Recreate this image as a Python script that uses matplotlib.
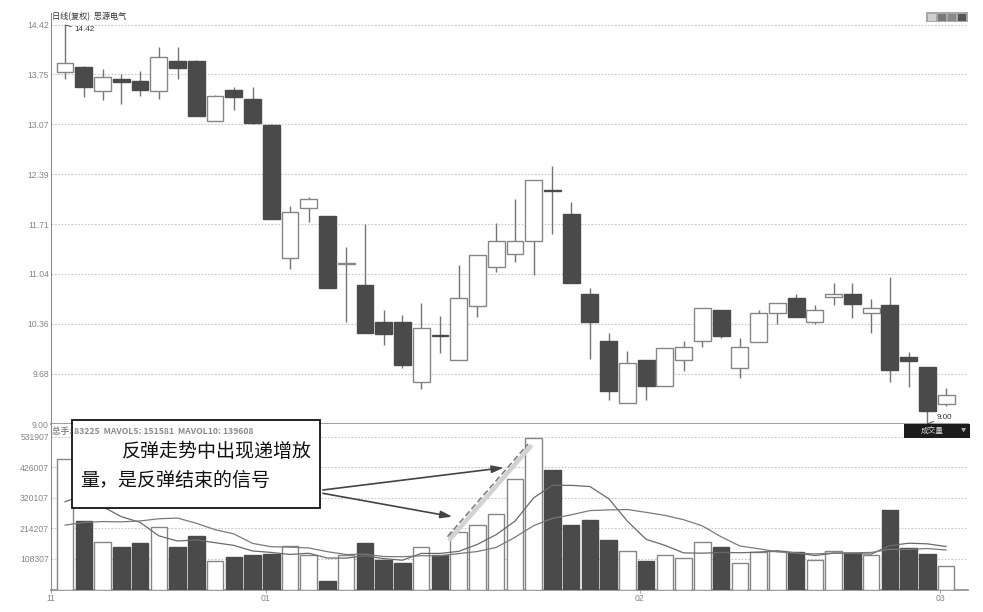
import numpy as np
import pandas as pd
import matplotlib
matplotlib.use("Agg")
import matplotlib.pyplot as plt
from matplotlib.patches import Rectangle
from matplotlib.transforms import ScaledTranslation

# ---------------- data ----------------
opens  = [13.78, 13.85, 13.53, 13.68, 13.66, 13.53, 13.93, 13.93, 13.11, 13.54,
          13.42, 13.06, 11.26, 11.94, 11.82, 11.17, 10.89, 10.38, 10.38, 9.57,
          10.21, 9.87, 10.60, 11.13, 11.31, 11.48, 12.18, 11.85, 10.76, 10.13,
          9.29, 9.87, 9.52, 9.87, 10.13, 10.55, 9.76, 10.12, 10.51, 10.71,
          10.39, 10.73, 10.76, 10.51, 10.61, 9.91, 9.78, 9.27]
highs  = [14.42, 13.86, 13.82, 13.76, 13.80, 14.12, 14.12, 13.95, 13.47, 13.58,
          13.58, 13.07, 11.96, 12.08, 11.82, 11.41, 11.72, 10.55, 10.48, 10.64,
          10.47, 11.16, 11.29, 11.73, 12.05, 12.32, 12.50, 12.01, 10.85, 10.24,
          9.99, 9.87, 10.03, 10.13, 10.57, 10.55, 10.17, 10.55, 10.65, 10.76,
          10.62, 10.92, 10.91, 10.70, 11.00, 9.98, 9.78, 9.49]
lows   = [13.68, 13.44, 13.40, 13.35, 13.46, 13.42, 13.68, 13.18, 13.11, 13.27,
          13.07, 11.78, 11.11, 11.75, 10.85, 10.38, 10.24, 10.07, 9.76, 9.47,
          9.97, 9.87, 10.46, 11.06, 11.20, 11.03, 11.58, 10.92, 9.88, 9.33,
          9.29, 9.33, 9.52, 9.72, 10.05, 10.17, 9.62, 10.12, 10.36, 10.45,
          10.36, 10.61, 10.44, 10.23, 9.57, 9.50, 9.00, 9.25]
closes = [13.90, 13.58, 13.71, 13.64, 13.54, 13.99, 13.84, 13.18, 13.46, 13.44,
          13.09, 11.78, 11.88, 12.05, 10.85, 11.19, 10.24, 10.22, 9.80, 10.30,
          10.19, 10.71, 11.29, 11.48, 11.48, 12.32, 12.16, 10.92, 10.39, 9.45,
          9.83, 9.52, 10.03, 10.04, 10.57, 10.20, 10.04, 10.51, 10.65, 10.45,
          10.55, 10.77, 10.63, 10.58, 9.73, 9.86, 9.17, 9.39]
volumes = [454500, 241300, 168400, 151000, 162800, 220400, 151000, 188100, 102400, 116300,
           123200, 125500, 153400, 123000, 32900, 122200, 164900, 104800, 95400, 151000,
           122200, 201000, 226400, 263500, 385000, 527400, 417300, 226400, 243700, 174300,
           136100, 102400, 122200, 112800, 168400, 151000, 95400, 133600, 136175, 132000,
           104000, 136000, 130000, 123500, 279180, 147000, 125000, 83225]
# sessions just before the window (estimated from where the MA lines start)
volume_before = [150000, 138000, 160000, 132000, 145000, 126000, 368000, 326000, 261000]

price_ticks = [9.00, 9.68, 10.36, 11.04, 11.71, 12.39, 13.07, 13.75, 14.42]
volume_ticks = [108307, 214207, 320107, 426007, 531907]
month_labels = ["11", "01", "02", "03"]
stock_title = "日线(复权)  思源电气"
note_lines = ["反弹走势中出现递增放", "量，是反弹结束的信号"]

# ---------------- figure ----------------
W, H = 983, 612
fig = plt.figure(figsize=(W / 100, H / 100), dpi=100)
fig.patch.set_facecolor("white")

def fx(px):
    return px / W

def fy(py):
    return 1 - py / H

ax_p = fig.add_axes([fx(51), fy(424), fx(968) - fx(51), fy(13) - fy(424)])
ax_v = fig.add_axes([fx(51), fy(589.5), fx(968) - fx(51), fy(424) - fy(589.5)], sharex=ax_p)

cjk = ["Noto Sans CJK SC", "DejaVu Sans"]
lat = ["Liberation Sans", "DejaVu Sans"]
dark = "#4a4a4a"
edge_up = "#858585"
wick = "#737373"
grid_kw = dict(linestyle=(0, (1.5, 1.5)), color="#c6c6c6", linewidth=0.8)
axis_col = "#8c8c8c"
tick_col = "#858585"

o, h, l, c = map(np.array, (opens, highs, lows, closes))
n = len(o)
idx = np.arange(n)
up = c >= o

# candles
ax_p.vlines(idx, l, h, color=wick, linewidth=1, zorder=2)
body_bottom = np.minimum(o, c)
body_h = np.maximum(np.abs(c - o), 0.015)
ax_p.bar(idx, body_h, bottom=body_bottom, width=0.9,
         color=np.where(up, "white", dark), edgecolor=np.where(up, edge_up, dark),
         linewidth=1, zorder=3)

ax_p.set_xlim(-0.53, n + 0.17)
ax_p.set_ylim(9.00, 14.583)
ax_p.set_yticks(price_ticks)
ax_p.set_yticklabels([f"{t:.2f}" for t in price_ticks])
ax_p.yaxis.grid(True, **grid_kw)
ax_p.set_axisbelow(True)
ax_p.tick_params(axis="y", length=0, pad=1.5, labelsize=6.2, labelcolor=tick_col)
ax_p.tick_params(axis="x", length=0, labelbottom=False)
for lab in ax_p.get_yticklabels():
    lab.set_family(lat)
for s in ("top", "right"):
    ax_p.spines[s].set_visible(False)
ax_p.spines["left"].set_color(axis_col)
ax_p.spines["bottom"].set_color(axis_col)
ax_p.spines["bottom"].set_linewidth(1.2)

# extreme price labels
ih = int(np.argmax(h))
ax_p.annotate(f"{h[ih]:.2f}", xy=(ih, h[ih]), xytext=(6.5, -3.5), textcoords="offset points",
              fontsize=5.8, color="#333333", va="center", ha="left", family=lat,
              arrowprops=dict(arrowstyle="-", lw=0.6, color="#333333", shrinkA=0, shrinkB=0))
il = int(np.argmin(l))
ax_p.annotate(f"{l[il]:.2f}", xy=(il, l[il]), xytext=(6.5, 5), textcoords="offset points",
              fontsize=5.8, color="#333333", va="center", ha="left", family=lat,
              annotation_clip=False,
              arrowprops=dict(arrowstyle="-", lw=0.6, color="#333333", shrinkA=0, shrinkB=0))

# volume bars + moving averages
ax_v.bar(idx, volumes, width=0.88, color=np.where(up, "white", dark),
         edgecolor=np.where(up, edge_up, dark), linewidth=1, zorder=3)
vol_all = pd.Series(volume_before + volumes, dtype=float)
ma5 = vol_all.rolling(5).mean().to_numpy()[len(volume_before):]
ma10 = vol_all.rolling(10).mean().to_numpy()[len(volume_before):]
ax_v.plot(idx, ma5, color="#6a6a6a", linewidth=0.9, zorder=4)
ax_v.plot(idx, ma10, color="#7a7a7a", linewidth=0.9, zorder=4)

ax_v.set_ylim(2407, 577000)
ax_v.set_yticks(volume_ticks)
ax_v.set_yticklabels([str(t) for t in volume_ticks])
ax_v.yaxis.grid(True, **grid_kw)
ax_v.set_axisbelow(True)
ax_v.tick_params(axis="y", length=0, pad=1.5, labelsize=6.2, labelcolor=tick_col)
for lab in ax_v.get_yticklabels():
    lab.set_family(lat)
month_pos = [-0.75, 10.7, 30.65, 46.7]
ax_v.set_xticks(month_pos)
ax_v.set_xticklabels(month_labels)
ax_v.tick_params(axis="x", length=2, width=0.6, color=axis_col, pad=1.5,
                 labelsize=6.2, labelcolor=tick_col)
for lab in ax_v.get_xticklabels():
    lab.set_family(lat)
for s in ("top", "right"):
    ax_v.spines[s].set_visible(False)
ax_v.spines["left"].set_color(axis_col)
ax_v.spines["bottom"].set_color(axis_col)
ax_v.spines["bottom"].set_linewidth(1.2)

# dashed trend line with soft shadow along the rising volume
shadow_tr = ax_v.transData + ScaledTranslation(1.8 / 72, -1.8 / 72, fig.dpi_scale_trans)
ax_v.plot([20.4, 24.7], [185700, 507600], color="#d2d2d2", linewidth=3.2,
          solid_capstyle="round", transform=shadow_tr, zorder=5)
ax_v.plot([20.4, 24.7], [185700, 507600], color="#7a7a7a", linewidth=1.1,
          linestyle=(0, (4, 2)), zorder=6)

# arrows from the note box
arrow_kw = dict(arrowstyle="-|>,head_length=0.7,head_width=0.22", color="#444444",
                lw=1.2, shrinkA=0, shrinkB=0)
ax_v.annotate("", xy=(23.4, 425300), xytext=(13.75, 347900), arrowprops=arrow_kw,
              annotation_clip=False, zorder=7)
ax_v.annotate("", xy=(20.66, 255200), xytext=(13.75, 336400), arrowprops=arrow_kw,
              annotation_clip=False, zorder=7)

# ---------------- figure-level decorations ----------------
fig.text(fx(52), fy(17), stock_title, fontsize=5.9, color="#333333", family=cjk,
         ha="left", va="center", zorder=6)

# note box
fig.add_artist(Rectangle((fx(72), fy(508)), fx(320) - fx(72), fy(420) - fy(508),
                         transform=fig.transFigure, facecolor="white", edgecolor="#111111",
                         linewidth=1.3, zorder=4))
fig.text(fx(121.5), fy(451.5), note_lines[0], fontsize=13.7, color="#111111", family=cjk,
         ha="left", va="center", zorder=5)
fig.text(fx(80), fy(480), note_lines[1], fontsize=13.7, color="#111111", family=cjk,
         ha="left", va="center", zorder=5)

# volume header
vol_header = f"总手: {volumes[-1]}  MAVOL5: {ma5[-1]:.0f}  MAVOL10: {ma10[-1]:.0f}"
fig.text(fx(52), fy(431), vol_header, fontsize=6.2, fontweight="bold", color="#8a8a8a",
         family=cjk, ha="left", va="center", zorder=7)

# indicator selector box
fig.add_artist(Rectangle((fx(904), fy(437.5)), fx(970) - fx(904), fy(424) - fy(437.5),
                         transform=fig.transFigure, facecolor="#1c1c1c", edgecolor="none",
                         zorder=4))
fig.text(fx(932), fy(431), "成交量", fontsize=5.5, color="#d8d8d8", family=cjk,
         ha="center", va="center", zorder=5)
fig.text(fx(963), fy(431), "▼", fontsize=3.8, color="#b0b0b0", family=cjk,
         ha="center", va="center", zorder=5)

# toolbar icons top right
fig.add_artist(Rectangle((fx(926), fy(22)), fx(968) - fx(926), fy(12) - fy(22),
                         transform=fig.transFigure, facecolor="#a8a8a8", edgecolor="none",
                         zorder=4))
for k, col in enumerate(["#d0d0d0", "#7a7a7a", "#8a8a8a", "#555555"]):
    x0 = 927.5 + k * 10.2
    fig.add_artist(Rectangle((fx(x0), fy(20.5)), fx(8), fy(13.5) - fy(20.5),
                             transform=fig.transFigure, facecolor=col, edgecolor="none",
                             zorder=5))

fig.savefig("out.png", dpi=100, facecolor="white")
